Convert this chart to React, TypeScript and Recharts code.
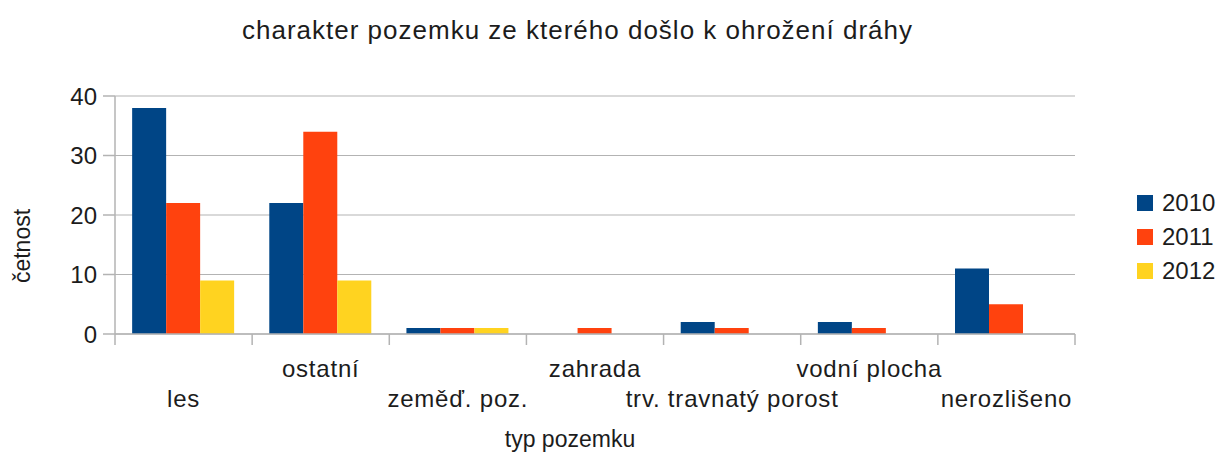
import React from 'react';
import { BarChart, Bar, XAxis, YAxis, CartesianGrid } from 'recharts';

const categories = ['les', 'ostatní', 'zeměď. poz.', 'zahrada', 'trv. travnatý porost', 'vodní plocha', 'nerozlišeno'];
const years = ['2010', '2011', '2012'];
const values2010 = [38, 22, 1, 0, 2, 2, 11];
const values2011 = [22, 34, 1, 1, 1, 1, 5];
const values2012 = [9, 9, 1, 0, 0, 0, 0];
const yTicks = [0, 10, 20, 30, 40];
const colors = ['#004586', '#ff420e', '#ffd320'];

const title = 'charakter pozemku ze kterého došlo k ohrožení dráhy';
const xLabel = 'typ pozemku';
const yLabel = 'četnost';

const W = 1219;
const H = 456;
const M = { top: 96, right: 144, left: 0, bottom: 0 };
const Y_W = 115;
const X_H = 122;
const PLOT_W = W - M.right - Y_W;

const data = categories.map((c, i) => ({
  name: c,
  y2010: values2010[i],
  y2011: values2011[i],
  y2012: values2012[i],
}));
const keys = ['y2010', 'y2011', 'y2012'];

const TEXT = '#1c1c1c';
const GRID = '#b3b3b3';
const FONT = '"Liberation Sans", Arial, sans-serif';

const CatTick = (props: any) => {
  const { x, y, payload, index } = props;
  const band = PLOT_W / categories.length;
  const upper = index % 2 === 1;
  return (
    <g>
      <line x1={x - band / 2} x2={x - band / 2} y1={y} y2={y + 11} stroke={GRID} strokeWidth={1.5} />
      {index === categories.length - 1 && (
        <line x1={x + band / 2} x2={x + band / 2} y1={y} y2={y + 11} stroke={GRID} strokeWidth={1.5} />
      )}
      <text x={x} y={y + (upper ? 43 : 73)} textAnchor="middle" fontSize={24} letterSpacing={0.8} fill={TEXT} fontFamily={FONT}>
        {payload.value}
      </text>
    </g>
  );
};

export default function App() {
  return (
    <div style={{ position: 'absolute', left: 0, top: 0, width: W, height: H, background: '#fff', fontFamily: FONT }}>
      <BarChart width={W} height={H} data={data} margin={M} barCategoryGap="12.5%" barGap={0}>
        <text x={577} y={39} textAnchor="middle" fontSize={26} textLength={670} lengthAdjust="spacing" fill={TEXT} fontFamily={FONT}>{title}</text>
        <text x={570} y={447} textAnchor="middle" fontSize={23} fill={TEXT} fontFamily={FONT}>{xLabel}</text>
        <text x={30} y={246} textAnchor="middle" fontSize={23} fill={TEXT} fontFamily={FONT} transform="rotate(-90 30 246)">{yLabel}</text>
        <CartesianGrid vertical={false} stroke={GRID} strokeWidth={1.2} />
        <XAxis
          dataKey="name"
          height={X_H}
          interval={0}
          tickSize={0}
          tickMargin={0}
          tickLine={false}
          axisLine={{ stroke: GRID, strokeWidth: 1.5 }}
          tick={<CatTick />}
        />
        <YAxis
          width={Y_W}
          domain={[0, 40]}
          ticks={yTicks}
          interval={0}
          tickSize={12}
          tickMargin={6}
          axisLine={{ stroke: GRID, strokeWidth: 1.5 }}
          tickLine={{ stroke: GRID, strokeWidth: 1.5 }}
          tick={{ fontSize: 24, fill: TEXT, fontFamily: FONT }}
        />
        <YAxis yAxisId="r" orientation="right" width={0} domain={[0, 40]} tick={false} tickLine={false} axisLine={{ stroke: '#cfcfcf', strokeWidth: 1.5 }} />
        {keys.map((k, i) => (
          <Bar key={k} dataKey={k} name={years[i]} fill={colors[i]} isAnimationActive={false} />
        ))}
      </BarChart>
      {years.map((yr, i) => (
        <div
          key={yr}
          style={{ position: 'absolute', left: 1137, top: 195 + i * 34, height: 16, display: 'flex', alignItems: 'center', fontSize: 24, color: TEXT, fontFamily: FONT, whiteSpace: 'nowrap' }}
        >
          <span style={{ display: 'inline-block', width: 16, height: 16, background: colors[i], marginRight: 9 }} />
          <span style={{ lineHeight: '16px' }}>{yr}</span>
        </div>
      ))}
    </div>
  );
}
